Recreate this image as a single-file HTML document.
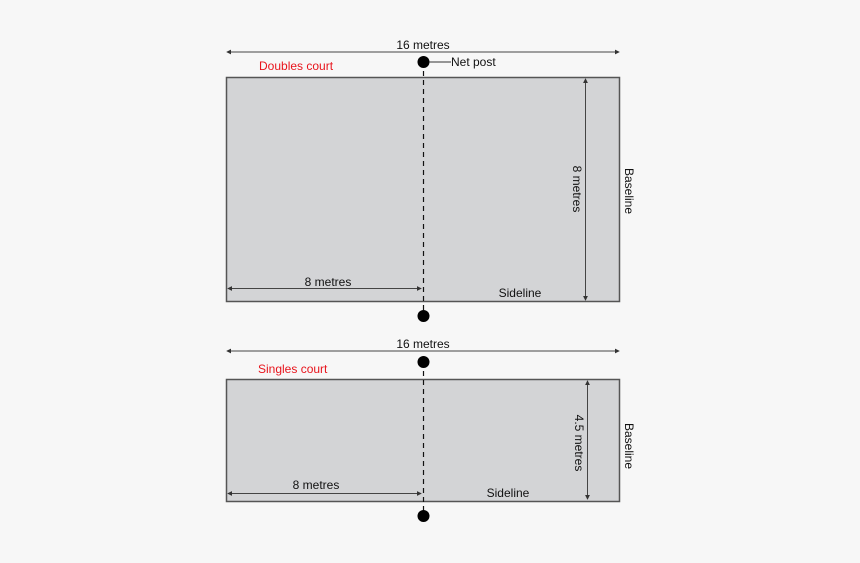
<!DOCTYPE html>
<html><head><style>html,body{margin:0;padding:0;background:#f7f7f7}svg{display:block}text{font-family:"Liberation Sans",sans-serif;font-size:12px;fill:#111}</style></head>
<body>
<svg width="860" height="563" viewBox="0 0 860 563">
<defs>
<marker id="a" viewBox="0 0 6 6" refX="5" refY="3" markerWidth="5" markerHeight="5" orient="auto-start-reverse"><path d="M0,0L6,3L0,6z" fill="#333"/></marker>
</defs>
<rect x="0" y="0" width="860" height="563" fill="#f7f7f7"/>
<!-- court 1 -->
<rect x="226.5" y="77.5" width="393" height="224" fill="#d3d4d6" stroke="#555" stroke-width="1.5"/>
<line x1="423.5" y1="62" x2="423.5" y2="316" stroke="#111" stroke-width="1.2" stroke-dasharray="5,4"/>
<circle cx="423.5" cy="62" r="6" fill="#000"/>
<circle cx="423.5" cy="316" r="6" fill="#000"/>
<line x1="429" y1="62" x2="451" y2="62" stroke="#333" stroke-width="1"/>
<text x="451" y="66">Net post</text>
<line x1="227" y1="52" x2="619" y2="52" stroke="#444" stroke-width="1" marker-start="url(#a)" marker-end="url(#a)"/>
<text x="423" y="49" text-anchor="middle">16 metres</text>
<text x="259" y="70" style="fill:#e8141c">Doubles court</text>
<line x1="585.5" y1="79" x2="585.5" y2="300" stroke="#444" stroke-width="1" marker-start="url(#a)" marker-end="url(#a)"/>
<text transform="translate(573,189) rotate(90)" text-anchor="middle">8 metres</text>
<text transform="translate(625,191) rotate(90)" text-anchor="middle">Baseline</text>
<line x1="228" y1="288.5" x2="421" y2="288.5" stroke="#444" stroke-width="1" marker-start="url(#a)" marker-end="url(#a)"/>
<text x="328" y="286" text-anchor="middle">8 metres</text>
<text x="520" y="297" text-anchor="middle">Sideline</text>
<!-- court 2 -->
<rect x="226.5" y="379.5" width="393" height="122" fill="#d3d4d6" stroke="#555" stroke-width="1.5"/>
<line x1="423.5" y1="362" x2="423.5" y2="516" stroke="#111" stroke-width="1.2" stroke-dasharray="5,4"/>
<circle cx="423.5" cy="362" r="6" fill="#000"/>
<circle cx="423.5" cy="516" r="6" fill="#000"/>
<line x1="227" y1="351" x2="619" y2="351" stroke="#444" stroke-width="1" marker-start="url(#a)" marker-end="url(#a)"/>
<text x="423" y="348" text-anchor="middle">16 metres</text>
<text x="258" y="373" style="fill:#e8141c">Singles court</text>
<line x1="587.5" y1="381" x2="587.5" y2="499" stroke="#444" stroke-width="1" marker-start="url(#a)" marker-end="url(#a)"/>
<text transform="translate(575,443) rotate(90)" text-anchor="middle">4.5 metres</text>
<text transform="translate(625,446) rotate(90)" text-anchor="middle">Baseline</text>
<line x1="228" y1="493.5" x2="421" y2="493.5" stroke="#444" stroke-width="1" marker-start="url(#a)" marker-end="url(#a)"/>
<text x="316" y="489" text-anchor="middle">8 metres</text>
<text x="508" y="497" text-anchor="middle">Sideline</text>
</svg>
</body></html>
